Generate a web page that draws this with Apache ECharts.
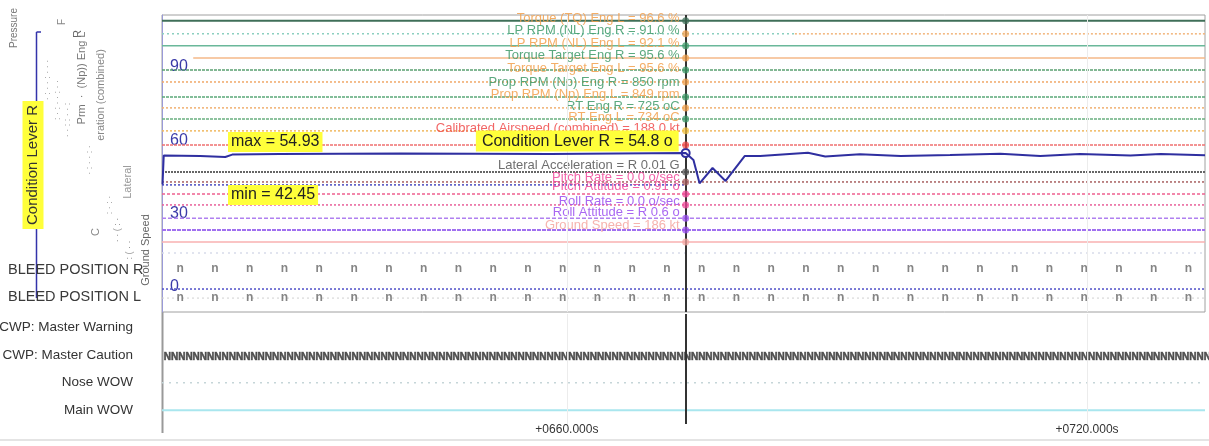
<!DOCTYPE html>
<html>
<head>
<meta charset="utf-8">
<script src="https://cdn.jsdelivr.net/npm/echarts@6/dist/echarts.min.js"></script>
<style>
  html, body { margin: 0; padding: 0; background: #fff; }
  #chart { width: 1209px; height: 446px; }
</style>
</head>
<body>
<div id="chart"></div>
<script>
// time window (s) and cursor
const T0 = 613.3;
const T1 = 733.6;
const CURSOR_T = 673.7;
const timeTicks = [660, 720];
const levelTicks = [0, 30, 60, 90];

// Condition Lever R trace
const conditionTimes = [613.36, 613.5, 613.65, 617.7, 620.6, 621.4, 626.9, 640.8, 658.1, 673.7, 674.6, 675.3, 676.8, 678.3, 680.5, 682.3, 687.8, 689.8, 693.8, 698.5, 704.2, 710.0, 714.6, 719.2, 725.0, 728.5, 733.6];
const conditionValues = [42.0, 53.8, 53.2, 53.6, 53.2, 54.2, 54.4, 54.6, 54.4, 54.8, 52.0, 42.45, 48.7, 43.4, 53.6, 53.6, 54.93, 53.4, 54.3, 53.6, 54.0, 54.5, 53.6, 54.4, 53.8, 54.4, 53.9];

// other channels (flat traces on the shared scale)
const channelLevels = [108.9, 103.6, 103.6, 98.7, 93.7, 88.8, 83.9, 77.8, 73.3, 68.8, 63.9, 58.1, 47.1, 43.0, 41.8, 38.1, 33.6, 28.2, 23.3, 18.4, 13.9];
const channelStarts = [T0, T0, 686.3, T0, 616.9, T0, T0, T0, T0, T0, T0, T0, T0, T0, T0, T0, T0, T0, T0, T0, T0];
const channelEnds = [T1, 686.3, T1, T1, T1, T1, T1, T1, T1, T1, T1, T1, T1, T1, CURSOR_T, T1, T1, T1, T1, T1, T1];
const channelColors = ['#3f6f58', '#8ccfc0', '#f2b47a', '#6ab89a', '#f5b889', '#5aa070', '#f0a868', '#5aa878', '#f0b070', '#6ab080', '#f0b860', '#f07070', '#666666', '#a86060', '#4a4ac0', '#ee6090', '#e8609a', '#b080f0', '#a070f0', '#f8b0b0', '#d8dcea'];
const channelDashes = ['solid', [2, 3], [2, 2], 'solid', 'solid', [3, 1], [2, 2], [3, 1], [2, 2], [3, 1], [2, 2], [3, 1], [2, 1], [2, 2], [2, 2], [3, 2], [2, 2], [4, 2], [4, 1], 'solid', [2, 4]];

// cursor read-outs
const dotLevels = [108.9, 103.6, 98.7, 93.7, 88.8, 83.9, 77.8, 73.3, 68.8, 63.9, 58.1, 47.1, 43.0, 38.1, 33.6, 28.2, 23.3, 18.4];
const dotColors = ['#3f6f58', '#f2a04c', '#3e9a68', '#f2a04c', '#3e9a68', '#f2a04c', '#3e9a68', '#f2a04c', '#3e9a68', '#f0c040', '#f04a4a', '#555555', '#a86060', '#f0479a', '#f0479a', '#9a4ef0', '#9a4ef0', '#f4a6a0'];
const readoutTexts = ['Torque (TQ) Eng L = 96.6 %', 'LP RPM (NL) Eng R = 91.0 %', 'LP RPM (NL) Eng L = 92.1 %', 'Torque Target Eng R = 95.6 %', 'Torque Target Eng L = 95.6 %', 'Prop RPM (Np) Eng R = 850 rpm', 'Prop RPM (Np) Eng L = 849 rpm', 'RT Eng R = 725 oC', 'RT Eng L = 734 oC', 'Calibrated Airspeed (combined) = 188.0 kt', 'Lateral Acceleration = R 0.01 G', 'Pitch Rate = 0.0 o/sec', 'Pitch Attitude = 0.91 o', 'Roll Rate = 0.0 o/sec', 'Roll Attitude = R 0.6 o', 'Ground Speed = 186 kt'];
const readoutLevels = [109.7, 104.8, 99.5, 94.6, 89.6, 83.9, 79.0, 74.1, 69.6, 65.1, 49.9, 45.0, 41.3, 35.2, 30.7, 25.4];
const readoutColors = ['#f2a04c', '#3e9a68', '#f2a04c', '#3e9a68', '#f2a04c', '#3e9a68', '#f2a04c', '#3e9a68', '#f2a04c', '#f04a4a', '#555555', '#f0479a', '#f0479a', '#9a4ef0', '#9a4ef0', '#f4a6a0'];
const conditionReadout = 'Condition Lever R = 54.8 o';
const conditionAtCursor = 54.8;

// bleed position samples
const bleedTimes = [615.4, 619.41, 623.42, 627.43, 631.44, 635.45, 639.46, 643.47, 647.48, 651.49, 655.5, 659.51, 663.52, 667.53, 671.54, 675.55, 679.56, 683.57, 687.58, 691.59, 695.6, 699.61, 703.62, 707.63, 711.64, 715.65, 719.66, 723.67, 727.68, 731.69];
const bleedRLevel = 7.4;
const bleedLLevel = -4.5;
const bleedZeroLevel = -0.8;

// discrete rows
const discreteRows = ['CWP: Master Warning', 'CWP: Master Caution', 'Nose WOW', 'Main WOW'];
const cautionGlyphs = 'N'.repeat(150);

const FONT = 'Liberation Sans, Arial, sans-serif';
const chart = echarts.init(document.getElementById('chart'), null, { renderer: 'canvas' });

const series = [];

channelLevels.forEach((lv, i) => {
  series.push({
    type: 'line', xAxisIndex: 0, yAxisIndex: 0, silent: true, symbol: 'none',
    data: [[channelStarts[i], lv], [channelEnds[i], lv]],
    lineStyle: { color: channelColors[i], width: i === 0 || i === 12 || i === 18 ? 2 : 1.5, type: channelDashes[i] },
    z: 2
  });
});

// bleed rows
series.push({
  type: 'line', xAxisIndex: 0, yAxisIndex: 0, silent: true, symbol: 'none',
  data: [[T0, bleedZeroLevel], [T1, bleedZeroLevel]],
  lineStyle: { color: '#5050c8', width: 1.5, type: [2, 2] }, z: 2
});
series.push({
  type: 'line', xAxisIndex: 0, yAxisIndex: 0, silent: true, symbol: 'none',
  data: [[T0, bleedLLevel], [T1, bleedLLevel]],
  lineStyle: { color: '#d0d0d0', width: 1, type: [2, 3] }, z: 2
});
[bleedRLevel, bleedLLevel].forEach((lv) => {
  series.push({
    type: 'scatter', xAxisIndex: 0, yAxisIndex: 0, silent: true, symbolSize: 0,
    data: bleedTimes.map((t) => [t, lv]),
    label: { show: true, position: 'inside', formatter: 'n', color: '#666', fontSize: 12, fontWeight: 'bold', fontFamily: FONT },
    z: 3
  });
});

// condition lever
series.push({
  type: 'line', xAxisIndex: 0, yAxisIndex: 0, silent: true, symbol: 'none',
  data: conditionTimes.map((t, i) => [t, conditionValues[i]]),
  lineStyle: { color: '#2f2fa0', width: 2 },
  z: 6,
  markLine: {
    silent: true, symbol: 'none', label: { show: false },
    data: [
      { xAxis: CURSOR_T, lineStyle: { color: '#333', width: 2, type: 'solid' } },
      ...timeTicks.map((t) => ({ xAxis: t, lineStyle: { color: '#ececec', width: 1, type: 'solid' } }))
    ]
  },
  markPoint: {
    silent: true,
    data: [{
      coord: [CURSOR_T, conditionAtCursor], symbol: 'circle', symbolSize: 8,
      itemStyle: { color: '#fff', borderColor: '#2f2fa0', borderWidth: 2 },
      label: {
        show: true, position: 'left', distance: 2, offset: [0, -12], formatter: conditionReadout,
        color: '#222', fontSize: 16, fontFamily: FONT, backgroundColor: '#ffff3a', padding: [2, 6, 3, 6]
      }
    }]
  }
});

// cursor dots and read-out labels
series.push({
  type: 'scatter', xAxisIndex: 0, yAxisIndex: 0, silent: true, symbolSize: 7,
  data: dotLevels.map((lv, i) => ({ value: [CURSOR_T, lv], itemStyle: { color: dotColors[i], opacity: 0.75 } })),
  z: 5
});
series.push({
  type: 'scatter', xAxisIndex: 0, yAxisIndex: 0, silent: true, symbolSize: 0,
  data: readoutLevels.map((lv, i) => ({
    value: [CURSOR_T, lv],
    label: { color: readoutColors[i] }
  })),
  label: {
    show: true, position: 'left', distance: 6, fontSize: 13, fontFamily: FONT, opacity: 0.85,
    formatter: (p) => readoutTexts[p.dataIndex]
  },
  z: 4
});

// discrete rows panel
series.push({
  type: 'scatter', xAxisIndex: 1, yAxisIndex: 1, silent: true, symbolSize: 0,
  data: [[T0 + 0.2, 'CWP: Master Caution']],
  label: { show: true, position: 'right', distance: 0, offset: [0, 2], formatter: cautionGlyphs, color: '#2a2a2a', fontSize: 10, fontWeight: 900, fontFamily: FONT, textBorderColor: '#555', textBorderWidth: 0.6 }
});
series.push({
  type: 'line', xAxisIndex: 1, yAxisIndex: 1, silent: true, symbol: 'none',
  data: [[T0, 'Nose WOW'], [T1, 'Nose WOW']],
  lineStyle: { color: '#c5d5d8', width: 1.5, type: [2, 5] }
});
series.push({
  type: 'line', xAxisIndex: 1, yAxisIndex: 1, silent: true, symbol: 'none',
  data: [[T0, 'Main WOW'], [T1, 'Main WOW']],
  lineStyle: { color: '#a9e6ee', width: 2 },
  markLine: {
    silent: true, symbol: 'none', label: { show: false },
    data: [
      { xAxis: CURSOR_T, lineStyle: { color: '#333', width: 2, type: 'solid' } },
      ...timeTicks.map((t) => ({ xAxis: t, lineStyle: { color: '#ececec', width: 1, type: 'solid' } }))
    ]
  }
});

function rotText(x, y, text, size, color) {
  return {
    type: 'text', x, y, rotation: Math.PI / 2, silent: true,
    style: { text, font: `${size}px ${FONT}`, fill: color, align: 'center', verticalAlign: 'middle', textAlign: 'center', textVerticalAlign: 'middle' }
  };
}
function plainText(x, y, text, size, color) {
  return {
    type: 'text', x, y, silent: true,
    style: { text, font: `${size}px ${FONT}`, fill: color, align: 'left', verticalAlign: 'middle', textAlign: 'left', textVerticalAlign: 'middle' }
  };
}

const graphic = [
  { type: 'line', silent: true, shape: { x1: 36.5, y1: 32, x2: 36.5, y2: 298 }, style: { stroke: '#3333aa', lineWidth: 1.5 } },
  { type: 'line', silent: true, shape: { x1: 36.5, y1: 32, x2: 41, y2: 32 }, style: { stroke: '#3333aa', lineWidth: 1.5 } },
  {
    type: 'text', x: 33, y: 165, rotation: Math.PI / 2, silent: true, z: 10,
    style: { text: 'Condition Lever R', font: `15px ${FONT}`, fill: '#333', backgroundColor: '#ffff3a', padding: [3, 4], align: 'center', verticalAlign: 'middle', textAlign: 'center', textVerticalAlign: 'middle' }
  },
  rotText(14, 28, 'Pressure', 10, '#777'),
  rotText(62, 22, 'F', 10, '#888'),
  rotText(78, 34, 'R', 11, '#666'),
  rotText(82, 78, 'Prm  ·  (Np)) Eng L', 11, '#777'),
  rotText(101, 95, 'eration (combined)', 11, '#888'),
  rotText(128, 182, 'Lateral', 11, '#999'),
  rotText(96, 232, 'C', 11, '#888'),
  rotText(146, 250, 'Ground Speed', 11, '#666'),
  rotText(48, 80, '· : · · : · · ·', 9, '#aaa'),
  rotText(58, 100, ': · : · · : · ·', 9, '#aaa'),
  rotText(68, 120, '· · : : · · :', 9, '#aaa'),
  rotText(90, 160, '· : · · : ·', 9, '#aaa'),
  rotText(110, 205, ': · : ·', 9, '#aaa'),
  rotText(118, 230, '· · ( : ·', 9, '#999'),
  rotText(130, 250, ': ( · ·', 9, '#999'),
  plainText(8, 270, 'BLEED POSITION R', 14.5, '#3a3a3a'),
  plainText(8, 297, 'BLEED POSITION L', 14.5, '#3a3a3a'),
  {
    type: 'text', x: 228, y: 142, silent: true, z: 10,
    style: { text: 'max = 54.93', font: `16px ${FONT}`, fill: '#222', backgroundColor: '#ffff3a', padding: [2, 3], align: 'left', verticalAlign: 'middle', textAlign: 'left', textVerticalAlign: 'middle' }
  },
  {
    type: 'text', x: 228, y: 195, silent: true, z: 10,
    style: { text: 'min = 42.45', font: `16px ${FONT}`, fill: '#222', backgroundColor: '#ffff3a', padding: [2, 3], align: 'left', verticalAlign: 'middle', textAlign: 'left', textVerticalAlign: 'middle' }
  },
  { type: 'line', silent: true, shape: { x1: 162.5, y1: 312, x2: 162.5, y2: 433 }, style: { stroke: '#999', lineWidth: 2 } },
  { type: 'line', silent: true, shape: { x1: 0, y1: 440, x2: 1209, y2: 440 }, style: { stroke: '#e4e4e4', lineWidth: 2 } }
];

chart.setOption({
  animation: false,
  backgroundColor: '#fff',
  textStyle: { fontFamily: FONT },
  grid: [
    { left: 162, top: 15, width: 1043, height: 297, show: true, borderColor: '#a0a0a0', borderWidth: 1, backgroundColor: '#fff', outerBoundsMode: 'none' },
    { left: 162, top: 314, width: 1043, height: 110, outerBoundsMode: 'none' }
  ],
  xAxis: [
    { type: 'value', gridIndex: 0, min: T0, max: T1, show: false },
    {
      type: 'value', gridIndex: 1, min: T0, max: T1,
      axisLine: { show: false }, axisTick: { show: false }, splitLine: { show: false },
      axisLabel: {
        customValues: timeTicks, margin: 0, color: '#333', fontSize: 12, fontFamily: FONT,
        formatter: (v) => `+0${v.toFixed(3)}s`
      }
    }
  ],
  yAxis: [
    {
      type: 'value', gridIndex: 0, min: -10.2, max: 111.3,
      axisLine: { show: true, lineStyle: { color: '#9a9ad8', width: 1 } },
      axisTick: { show: false }, splitLine: { show: false },
      axisLabel: { inside: true, customValues: levelTicks, margin: 8, color: '#3a3aa8', fontSize: 16, fontFamily: FONT }
    },
    {
      type: 'category', gridIndex: 1, data: discreteRows, inverse: true,
      axisLine: { show: false }, axisTick: { show: false }, splitLine: { show: false },
      axisLabel: { margin: 29, color: '#333', fontSize: 13.5, fontFamily: FONT }
    }
  ],
  series,
  graphic
});
</script>
</body>
</html>
